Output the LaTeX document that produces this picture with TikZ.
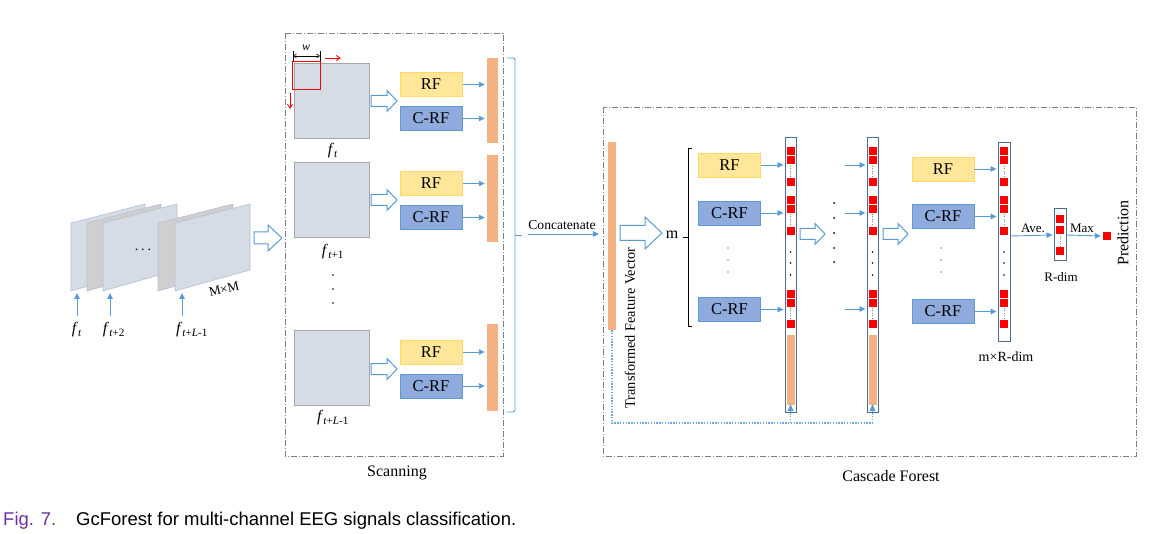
\documentclass[tikz,border=0pt]{standalone}
\usepackage{fontspec}
\setmainfont{Liberation Serif}
\newfontfamily\capfont{Liberation Sans}
\usetikzlibrary{arrows.meta}

\definecolor{arrblue}{HTML}{5B9BD5}
\definecolor{rffill}{HTML}{FFE699}
\definecolor{rfline}{HTML}{FFD966}
\definecolor{crffill}{HTML}{8FAADC}
\definecolor{crfline}{HTML}{5B9BD5}
\definecolor{barorange}{HTML}{F4B183}
\definecolor{imgfill}{HTML}{D6DCE5}
\definecolor{imgline}{HTML}{A6A6A6}
\definecolor{frameline}{HTML}{B4C2D6}
\definecolor{framegray}{HTML}{D0CECE}
\definecolor{colline}{HTML}{4F6C8C}
\definecolor{boxgray}{HTML}{7F7F7F}
\definecolor{fbblue}{HTML}{6FA8DC}
\definecolor{figpurple}{HTML}{7030A0}

\newcommand{\fsz}[1]{\fontsize{#1}{#1}\selectfont}

\tikzset{
  every node/.style={inner sep=0pt},
  rfbox/.style={draw=rfline, fill=rffill, line width=0.9pt, minimum width=62, minimum height=24, font=\fsz{16.5}},
  crfbox/.style={draw=crfline, fill=crffill, line width=0.9pt, minimum width=62, minimum height=24, font=\fsz{16.5}},
  imgbox/.style={draw=imgline, fill=imgfill, line width=0.8pt, minimum size=75},
  fbar/.style={fill=barorange, minimum width=11},
  colbox/.style={draw=colline, fill=white, line width=1pt},
  arr/.style={draw=arrblue, line width=0.9pt, -{Triangle[length=6,width=5.5]}},
  redarr/.style={draw=red, line width=0.8pt, -{Straight Barb[length=4,width=5]}},
  dashbox/.style={draw=boxgray, line width=0.7pt, dash pattern=on 6pt off 2pt on 1pt off 2pt},
  fbline/.style={draw=fbblue, line width=1.1pt, dash pattern=on 1.4pt off 1.4pt},
  harrowline/.style={draw=arrblue, fill=white, line width=1pt},
  pics/harrow/.style args={#1/#2/#3/#4}{code={
    \draw[harrowline] (0,-#2) -- ({#1-#4},-#2) -- ({#1-#4},-#3) -- (#1,0)
      -- ({#1-#4},#3) -- ({#1-#4},#2) -- (0,#2) -- cycle;}},
  lbl/.style={font=\fsz{16}},
}

\begin{document}
\begin{tikzpicture}[x=1pt,y=-1pt]
\useasboundingbox (0,0) rectangle (1158,534);

% ---------- stack of input frames ----------
\foreach \L/\c in {71/imgfill,87/framegray,103/imgfill}
  \filldraw[fill=\c, draw=frameline, line width=0.6pt]
    (\L,223) -- ({\L+74},204) -- ({\L+74},270) -- (\L,291) -- cycle;
\node (stackdots) at (143,250) {\fsz{14}.\hspace{3pt}.\hspace{3pt}.};
\foreach \L/\c in {158/framegray,175/imgfill}
  \filldraw[fill=\c, draw=frameline, line width=0.6pt]
    (\L,223) -- ({\L+75},204) -- ({\L+75},270) -- (\L,291) -- cycle;
\node[rotate=14] (mm) at (224,289) {\fsz{13}M×M};

\coordinate (fr1) at (77,293);
\coordinate (fr2) at (110,293);
\coordinate (fr3) at (182,293);
\coordinate (st1) at (77,316);
\coordinate (st2) at (110,316);
\coordinate (st3) at (182,316);
\draw[arr] (st1) -- (fr1);
\draw[arr] (st2) -- (fr2);
\draw[arr] (st3) -- (fr3);
\node[lbl] (lf1) at (77,330) {\textit{f}\textsubscript{\textit{t}}};
\node[lbl] (lf2) at (114,330) {\textit{f}\textsubscript{\textit{t}+2}};
\node[lbl] (lf3) at (192,330) {\textit{f}\textsubscript{\textit{t}+\textit{L}-1}};

\pic at (254,238) {harrow={28/6/13/14}};

% ---------- scanning ----------
\draw[dashbox] (285,33) rectangle (503,456);
\node[lbl] (scan) at (397,473) {Scanning};

\node[imgbox] (img1) at (331.5,100.5) {};
\node[imgbox] (img2) at (331.5,199.5) {};
\node[imgbox] (img3) at (331.5,367.5) {};

% sliding window
\draw[red, line width=0.8pt] (292,61) rectangle (320,89);
\draw[line width=0.6pt, {Straight Barb[length=3,width=4]}-{Straight Barb[length=3,width=4]}] (293,56) -- (320,56);
\draw[line width=0.6pt] (293,51) -- (293,61) (320,51) -- (320,61);
\node (wl) at (306,48) {\fsz{12}\textit{w}};
\draw[redarr] (325,58) -- (341,58);
\draw[redarr] (290,93) -- (290,109);

\node[lbl] (lg1) at (333,151) {\textit{f}\textsubscript{\textit{t}}};
\node[lbl] (lg2) at (333,252) {\textit{f}\textsubscript{\textit{t}+1}};
\node[lbl] (lg3) at (333,418) {\textit{f}\textsubscript{\textit{t}+\textit{L}-1}};
\foreach \y in {275,289,303} \fill (333,\y) circle (0.9);

\pic at (371,101) {harrow={26/5.5/10.5/10}};
\pic at (371,200) {harrow={26/5.5/10.5/10}};
\pic at (371,369) {harrow={26/5.5/10.5/10}};

\node[rfbox]  (rf1)  at (431,84.5)  {RF};
\node[crfbox] (crf1) at (431,118.5) {C-RF};
\node[rfbox]  (rf2)  at (431,183.5) {RF};
\node[crfbox] (crf2) at (431,217.5) {C-RF};
\node[rfbox]  (rf3)  at (431,352)   {RF};
\node[crfbox] (crf3) at (431,386)   {C-RF};

\node[fbar, minimum height=85] (bar1) at (492.5,100.5) {};
\node[fbar, minimum height=87] (bar2) at (492.5,198.5) {};
\node[fbar, minimum height=87] (bar3) at (492.5,367.5) {};

\foreach \b/\n in {rf1/bar1,crf1/bar1,rf2/bar2,crf2/bar2,rf3/bar3,crf3/bar3}
  \draw[arr, shorten <=1pt, shorten >=2pt] (\b.east) -- (\b.east -| \n.west);

% concatenation bracket
\draw[arrblue, line width=0.9pt, rounded corners=2pt] (507,58) -- (515,58) -- (515,412) -- (507,412);
\draw[arrblue, line width=0.9pt] (515,235) -- (522,235);
\coordinate (cc1) at (528,234);
\coordinate (cc2) at (599,234);
\draw[arr] (cc1) -- (cc2);
\node (concat) at (562,225) {\fsz{13.6}Concatenate};

% ---------- cascade forest ----------
\draw[dashbox] (603,107) rectangle (1136,456);
\node[lbl] (casc) at (891,476) {Cascade Forest};

\node[fill=barorange, minimum width=8, minimum height=188] (tfv) at (612,236) {};
\node[rotate=90] (tfvl) at (630,328) {\fsz{14.3}Transformed Feature Vector};

\pic at (620,233) {harrow={42/7.5/16/17}};
\node (m) at (672,235) {\fsz{16}m};
\draw[line width=0.8pt] (683,237) -- (688,237);
\draw[line width=0.8pt] (692,148) -- (688,148) -- (688,326) -- (692,326);

% first level
\node[rfbox]  (rfa)   at (729.5,165)   {RF};
\node[crfbox] (crfa1) at (729.5,213)   {C-RF};
\node[crfbox] (crfa2) at (729.5,309.5) {C-RF};
\foreach \y in {248,260,272} \fill (728,\y) circle (0.7);

\node[colbox, minimum width=11, minimum height=274] (col1) at (790.5,275) {};
\node[colbox, minimum width=11, minimum height=274] (col2) at (872.5,275) {};
\node[colbox, minimum width=12, minimum height=198] (col3) at (1004,242) {};

\foreach \cx in {790.5,872.5,1004} {
  \foreach \y in {151,160,182,200,209,231,294,303,324}
    \fill[red] ({\cx-4},{\y-4}) rectangle ({\cx+4},{\y+4});
  \foreach \y in {166,214,308}
    \draw[gray, line width=0.7pt, dash pattern=on 0.8pt off 1.6pt] (\cx,\y) -- (\cx,{\y+10});
  \foreach \y in {252,263,275}
    \fill (\cx,\y) circle (0.9);
}
\foreach \cx in {790.5,872.5}
  \fill[barorange] ({\cx-4},335) rectangle ({\cx+4},405);

\draw[arr, shorten >=1pt] (rfa.east) -- (rfa.east -| col1.west);
\draw[arr, shorten >=1pt] (crfa1.east) -- (crfa1.east -| col1.west);
\draw[arr, shorten >=1pt] (crfa2.east) -- (crfa2.east -| col1.west);

\coordinate (in1) at (845,165);
\coordinate (in2) at (845,213);
\coordinate (in3) at (845,309);
\draw[arr, shorten >=1pt] (in1) -- (in1 -| col2.west);
\draw[arr, shorten >=1pt] (in2) -- (in2 -| col2.west);
\draw[arr, shorten >=1pt] (in3) -- (in3 -| col2.west);

\pic at (800,234) {harrow={25/5.5/10.5/10}};
\foreach \y in {203,218,233,248,262} \fill (834,\y) circle (1);
\pic at (883,234) {harrow={25/5.5/10.5/10}};

% feedback of the feature vector
\coordinate (fb1) at (612,423);
\coordinate (fb2) at (790.5,423);
\coordinate (fb3) at (872.5,423);
\coordinate (up1) at (790.5,404);
\coordinate (up2) at (872.5,404);
\draw[fbline] (tfv.south) -- (fb1) -- (fb3);
\draw[fbline] (fb2) -- (up1);
\draw[fbline] (fb3) -- (up2);
\fill[arrblue] (up1) -- ++(-3,7) -- ++(6,0) -- cycle;
\fill[arrblue] (up2) -- ++(-3,7) -- ++(6,0) -- cycle;

% last level
\node[rfbox]  (rfc)   at (943,169)   {RF};
\node[crfbox] (crfc1) at (943,216.5) {C-RF};
\node[crfbox] (crfc2) at (943,311.5) {C-RF};
\foreach \y in {248,260,272} \fill (941,\y) circle (0.7);
\draw[arr, shorten >=1pt] (rfc.east) -- (rfc.east -| col3.west);
\draw[arr, shorten >=1pt] (crfc1.east) -- (crfc1.east -| col3.west);
\draw[arr, shorten >=1pt] (crfc2.east) -- (crfc2.east -| col3.west);
\node (mrd) at (1006,357) {\fsz{14}m×R-dim};

% averaging and prediction
\node[colbox, minimum width=12, minimum height=52] (rdim) at (1060,235) {};
\foreach \y in {219,230,251}
  \fill[red] (1056,{\y-4}) rectangle (1064,{\y+4});
\draw[gray, line width=0.7pt, dash pattern=on 0.8pt off 1.6pt] (1060,236) -- (1060,246);
\node (rdl) at (1061,277) {\fsz{13}R-dim};

\node[fill=red, minimum size=8] (pred) at (1107,236) {};
\draw[arr, shorten >=1pt] (col3.east |- 0,236) -- (rdim.west);
\draw[arr, shorten >=2pt] (rdim.east) -- (pred.west);
\node (ave) at (1033,228) {\fsz{13}Ave.};
\node (max) at (1082,228) {\fsz{13}Max};
\node[rotate=90] (predl) at (1123,233) {\fsz{16}Prediction};

% caption
\node[anchor=west] (figno) at (3,521) {\capfont\fsz{18.5}\color{figpurple}Fig. 7.};
\node[anchor=west] (cap) at (76,521) {\capfont\fsz{18.5}GcForest for multi-channel EEG signals classification.};
\end{tikzpicture}
\end{document}
